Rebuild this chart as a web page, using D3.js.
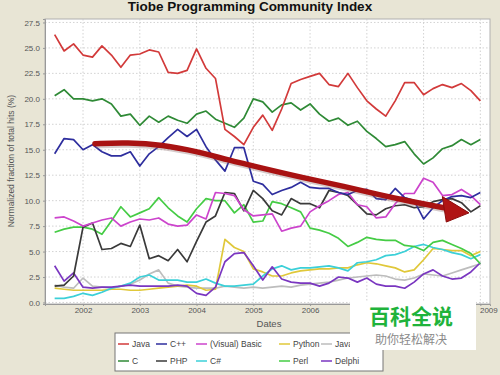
<!DOCTYPE html>
<html><head><meta charset="utf-8">
<script src="https://cdn.jsdelivr.net/npm/d3@7"></script>
<style>body{margin:0;background:#e8e5d5}svg{display:block}</style>
</head><body>
<svg id="chart" width="500" height="375"></svg>
<script>
const months = ["2001-07","2001-09","2001-11","2002-01","2002-03","2002-05","2002-07","2002-09","2002-11","2003-01","2003-03","2003-05","2003-07","2003-09","2003-11","2004-01","2004-03","2004-05","2004-07","2004-09","2004-11","2005-01","2005-03","2005-05","2005-07","2005-09","2005-11","2006-01","2006-03","2006-05","2006-07","2006-09","2006-11","2007-01","2007-03","2007-05","2007-07","2007-09","2007-11","2008-01","2008-03","2008-05","2008-07","2008-09","2008-11","2009-01"];
const java   = [26.3,24.7,25.4,24.3,24.1,25.2,24.3,23.1,24.3,24.4,24.8,24.6,22.6,22.5,22.8,24.9,23.0,22.0,17.0,16.3,15.5,17.2,18.4,16.9,19.0,21.5,21.9,22.2,22.5,21.4,21.2,22.5,21.1,19.8,19.0,18.3,19.8,21.6,21.6,20.4,21.0,21.4,21.1,21.5,20.8,19.8];
const cLang  = [20.3,20.9,20.0,20.0,19.8,20.0,19.5,18.3,18.5,17.4,18.3,17.7,18.3,17.9,17.6,18.5,18.8,18.0,17.6,17.2,18.1,20.0,19.7,18.7,19.4,19.6,18.9,19.5,18.5,17.8,18.1,17.4,17.8,16.8,16.1,15.3,15.5,15.8,14.6,13.6,14.2,15.1,15.4,16.0,15.5,16.0];
const cpp    = [14.6,16.1,16.0,15.0,15.5,14.8,14.4,14.4,14.8,13.4,14.6,15.3,16.2,17.0,16.3,17.0,15.3,14.0,12.9,15.2,15.2,11.9,11.6,10.6,11.0,11.3,11.8,11.3,11.2,11.2,10.8,10.6,11.0,11.1,10.2,10.1,11.2,10.3,10.0,8.2,9.3,10.0,10.4,10.5,10.3,10.8];
const php    = [1.6,1.7,2.6,7.4,7.8,5.2,5.3,5.8,5.5,7.6,4.3,4.6,4.1,5.2,4.0,6.0,7.9,8.5,10.8,10.7,9.0,11.0,10.2,9.0,8.6,10.2,9.7,9.7,9.3,11.0,10.8,10.5,9.6,8.7,8.6,9.2,9.5,9.6,9.3,9.4,9.9,10.1,10.2,9.8,8.9,9.5];
const basic  = [8.3,8.4,8.0,7.5,7.8,8.1,8.3,7.5,7.9,8.2,8.1,8.3,7.7,7.5,7.6,8.6,8.2,10.8,10.7,10.5,9.1,8.5,8.6,8.7,7.0,7.3,7.5,8.9,9.5,10.0,10.6,10.8,9.6,9.4,8.3,8.4,9.7,10.7,10.7,12.2,11.8,10.5,10.6,11.1,10.5,9.6];
const csharp = [0.4,0.4,0.6,0.9,0.7,1.0,1.4,1.6,1.9,2.5,2.7,2.2,2.2,2.2,2.0,2.0,2.3,1.9,1.6,1.6,1.7,1.8,2.6,3.3,3.6,3.2,3.4,3.4,3.5,3.6,3.4,3.1,3.9,4.0,4.2,4.6,4.7,5.0,5.5,5.7,5.4,5.2,4.9,4.7,4.3,4.7];
const python = [1.4,1.3,1.2,1.2,1.2,1.2,1.3,1.3,1.2,1.2,1.3,1.4,1.5,1.6,1.7,1.6,1.2,1.3,6.2,5.4,5.0,3.3,3.0,2.6,2.6,2.9,3.1,3.2,3.3,3.3,3.4,3.4,3.7,3.9,3.8,3.6,3.4,3.0,3.2,4.2,5.3,5.2,5.1,5.1,4.6,5.0];
const perl   = [6.9,7.2,7.4,7.4,7.2,6.7,8.0,9.4,8.4,8.8,9.2,10.3,9.3,8.5,7.9,9.2,10.2,10.0,10.0,8.8,9.6,7.9,8.0,9.9,9.7,9.3,8.9,7.3,7.1,6.8,6.3,5.5,5.9,6.4,6.2,6.1,6.1,5.6,5.5,5.1,5.9,6.1,5.7,5.3,4.8,3.8];
const javascript = [1.7,1.5,1.4,2.4,1.6,1.5,1.4,1.6,1.8,2.2,2.8,3.2,1.9,1.6,1.5,1.4,1.4,1.4,1.6,1.5,1.4,1.5,1.4,1.5,1.6,1.5,1.7,1.8,1.9,2.0,2.2,2.4,2.5,2.6,2.7,2.6,2.3,2.2,2.4,2.8,2.7,2.6,2.9,3.2,3.5,3.8];
const delphi = [3.6,2.1,2.9,1.5,1.4,1.5,1.5,1.6,1.7,1.6,1.6,1.6,1.6,1.7,1.6,0.9,0.7,1.5,4.0,4.8,4.9,3.6,2.2,3.5,2.3,2.0,1.9,1.9,1.6,1.9,2.5,2.4,2.0,2.4,1.8,1.6,1.6,1.4,2.0,2.8,3.2,2.6,2.3,2.4,3.0,3.9];

const seriesNames  = ["Java","C++","(Visual) Basic","Python","JavaScript","C","PHP","C#","Perl","Delphi"];
const seriesColors = ["#d23a3a","#2e2e9e","#cc44cc","#e0c83a","#bdbdbd","#2f8a36","#3a3a3a","#3cd0d8","#45cc45","#7a36c0"];
const seriesValues = [java,cpp,basic,python,javascript,cLang,php,csharp,perl,delphi];
const drawOrder = ["JavaScript","Python","C#","Delphi","Perl","PHP","(Visual) Basic","C++","C","Java"];

const yearTicks = [2002,2003,2004,2005,2006,2007,2008,2009];
const hiddenYearLabels = [2007,2008]; // covered by the watermark in the reference
const valueTicks = [0,2.5,5,7.5,10,12.5,15,17.5,20,22.5,25,27.5];

const arrowYears  = [2002.21,2002.79,2003.39,2004.03,2004.55,2005.15,2005.91,2006.61,2007.20,2007.79,2008.36];
const arrowValues = [15.6,15.7,15.5,14.8,14.0,13.2,12.2,11.4,10.6,9.9,9.3];
const headYears  = [2008.33,2008.40,2008.80];
const headValues = [10.4,7.9,8.8];

const toYear = s => { const [y,m] = s.split("-").map(Number); return y + (m-1)/12; };
const dates = months.map(toYear);

const svg = d3.select("#chart");
const L=45, R=490, T=19, B=304;
const x = d3.scaleLinear().domain([2001.33, 2009.17]).range([L,R]);
const y = d3.scaleLinear().domain([-0.15, 27.84]).range([B,T]);
const FONT = "Liberation Sans, Arial, sans-serif";

svg.append("rect").attr("width",500).attr("height",375).attr("fill","#e8e5d5");

svg.append("text").attr("x",250).attr("y",11).attr("text-anchor","middle")
  .attr("font-family",FONT).attr("font-weight","bold")
  .attr("font-size",13.5).attr("fill","#111").text("Tiobe Programming Community Index");

svg.append("rect").attr("x",L).attr("y",T).attr("width",R-L).attr("height",B-T)
  .attr("fill","#ffffff").attr("stroke","#b0b0b0").attr("stroke-width",1);

const g = svg.append("g");
g.selectAll("line.h").data(valueTicks).join("line")
  .attr("x1",L).attr("x2",R).attr("y1",d=>y(d)).attr("y2",d=>y(d))
  .attr("stroke","#c8c8c8").attr("stroke-width",0.8).attr("stroke-dasharray","1.5,2");
g.selectAll("line.v").data(yearTicks).join("line")
  .attr("y1",T).attr("y2",B).attr("x1",d=>x(d)).attr("x2",d=>x(d))
  .attr("stroke","#c8c8c8").attr("stroke-width",0.8).attr("stroke-dasharray","1.5,2");

const yAxis = d3.axisLeft(y).tickValues(valueTicks).tickFormat(d3.format(".1f")).tickSize(2);
const xAxis = d3.axisBottom(x).tickValues(yearTicks)
  .tickFormat(d => hiddenYearLabels.includes(d) ? "" : d3.format("d")(d)).tickSize(2);
const ya = svg.append("g").attr("transform",`translate(${L},0)`).call(yAxis);
const xa = svg.append("g").attr("transform",`translate(0,${B})`).call(xAxis);
[ya,xa].forEach(a=>{
  a.select(".domain").attr("stroke","#999");
  a.selectAll(".tick line").attr("stroke","#999");
  a.selectAll("text").attr("font-family",FONT).attr("font-size",8).attr("fill","#555");
});
xa.selectAll("text").attr("dy","0.55em");
xa.selectAll(".tick").filter(d=>d===2009).select("text").attr("dx",8);

svg.append("text").attr("transform","translate(14,161) rotate(-90)").attr("text-anchor","middle")
  .attr("font-family",FONT).attr("font-size",8.5).attr("fill","#555")
  .text("Normalized fraction of total hits (%)");
svg.append("text").attr("x",269).attr("y",327).attr("text-anchor","middle")
  .attr("font-family",FONT).attr("font-size",9.5).attr("fill","#555")
  .text("Dates");

const line = d3.line().x((d,i)=>x(dates[i])).y(d=>y(d));
const lg = svg.append("g");
drawOrder.forEach(name=>{
  const i = seriesNames.indexOf(name);
  lg.append("path").datum(seriesValues[i]).attr("d",line)
    .attr("fill","none").attr("stroke",seriesColors[i]).attr("stroke-width",1.7)
    .attr("stroke-linejoin","round");
});

const arrowPts = arrowYears.map((v,i)=>[x(v),y(arrowValues[i])]);
const aLine = d3.line().curve(d3.curveBasis);
svg.append("path").attr("d",aLine(arrowPts.map(p=>[p[0]+1,p[1]+2]))).attr("fill","none")
  .attr("stroke","#8a6a6a").attr("stroke-opacity",0.35).attr("stroke-width",5.5);
svg.append("path").attr("d",aLine(arrowPts)).attr("fill","none")
  .attr("stroke","#a81212").attr("stroke-width",5.5).attr("stroke-linecap","round");
const headPts = headYears.map((v,i)=>[x(v),y(headValues[i])]);
svg.append("polygon").attr("points",headPts.map(p=>p.join(",")).join(" "))
  .attr("fill","#b01414").attr("stroke","#8a0c0c").attr("stroke-width",1).attr("stroke-linejoin","round");

// legend (top row is partly hidden by the watermark box, as in the reference)
const lgx = 115, lgy = 333;
const clip = svg.append("defs").append("clipPath").attr("id","legclip");
clip.append("rect").attr("x",lgx).attr("y",lgy-2).attr("width",350-lgx).attr("height",20);
clip.append("rect").attr("x",lgx).attr("y",350).attr("width",270).attr("height",25);
svg.append("rect").attr("x",lgx).attr("y",lgy).attr("width",268).attr("height",38)
  .attr("fill","#ffffff").attr("stroke","#777").attr("stroke-width",1);
const legG = svg.append("g").attr("clip-path","url(#legclip)");
const colX = [117,155,195,278,320];
const legendOrder = [["Java","C"],["C++","PHP"],["(Visual) Basic","C#"],["Python","Perl"],["JavaScript","Delphi"]];
legendOrder.forEach((col,ci)=>col.forEach((name,ri)=>{
  const i = seriesNames.indexOf(name);
  const yy = lgy + 11 + ri*17;
  legG.append("line").attr("x1",colX[ci]+1).attr("x2",colX[ci]+12).attr("y1",yy).attr("y2",yy)
    .attr("stroke",seriesColors[i]).attr("stroke-width",1.6);
  legG.append("text").attr("x",colX[ci]+15).attr("y",yy+3)
    .attr("font-family",FONT).attr("font-size",8.5).attr("fill","#444")
    .text(name);
}));

// watermark
svg.append("rect").attr("x",350).attr("y",301).attr("width",126).attr("height",49).attr("fill","#ffffff");
svg.append("text").attr("x",411).attr("y",324).attr("text-anchor","middle")
  .attr("font-family","Noto Sans CJK SC").attr("font-weight","bold").attr("font-size",21).attr("fill","#1fb33b")
  .text("百科全说");
svg.append("text").attr("x",411).attr("y",344).attr("text-anchor","middle")
  .attr("font-family","Noto Sans CJK SC").attr("font-size",12).attr("fill","#8a8a8a")
  .text("助你轻松解决");
</script>
</body></html>
